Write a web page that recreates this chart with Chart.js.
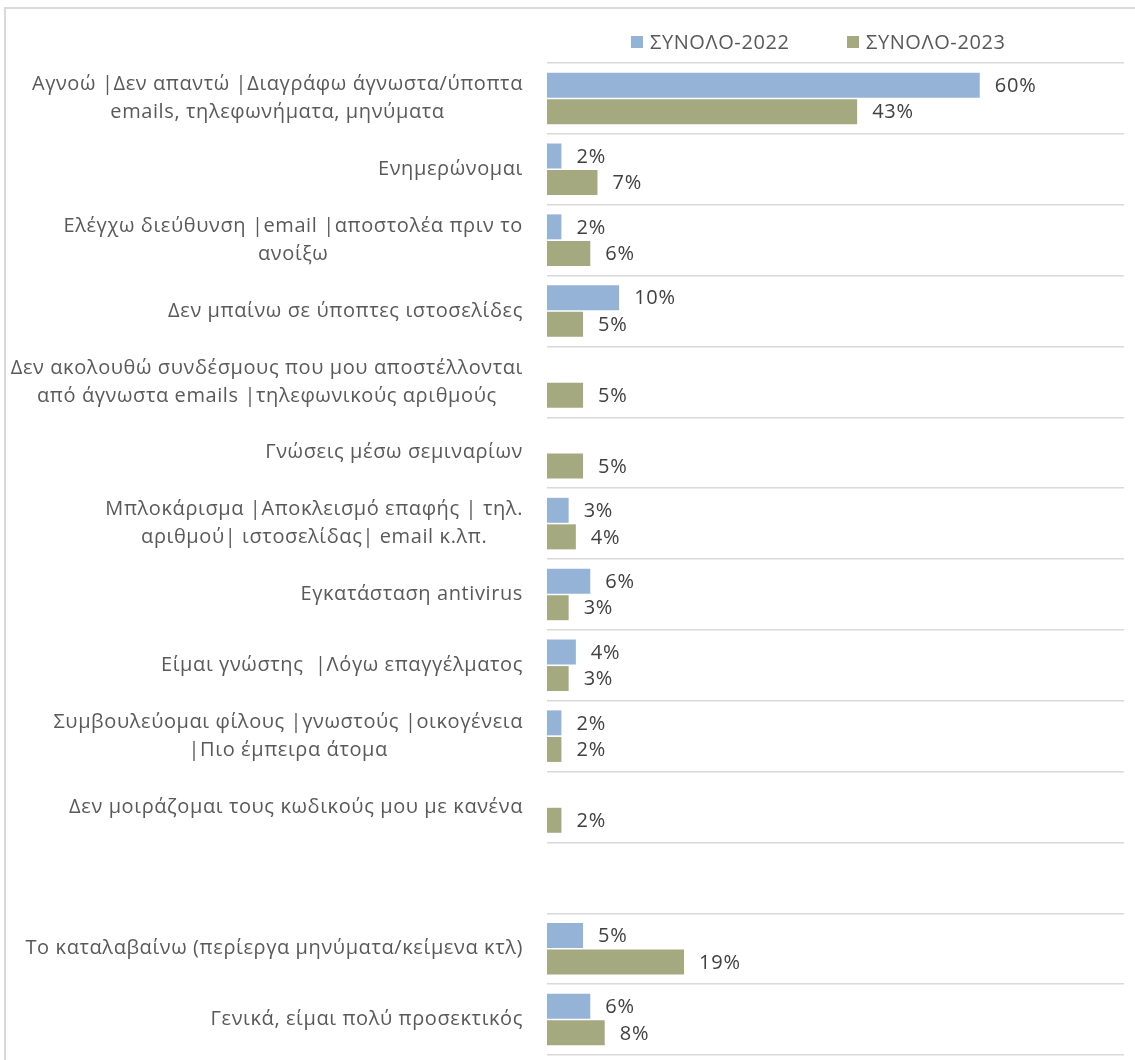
<!DOCTYPE html>
<html>
<head>
<meta charset="utf-8">
<script src="https://cdn.jsdelivr.net/npm/chart.js@4.4.1/dist/chart.umd.min.js"></script>
<style>
  body { margin: 0; background: #fff; }
  #wrap { position: relative; width: 1135px; height: 1060px; overflow: hidden; }
  #frame { position: absolute; left: 4px; top: 7px; width: 1200px; height: 1200px; border: 2px solid #d9d9d9; box-sizing: border-box; }
  #legend { position: absolute; top: 28px; left: 0; width: 1135px; font-family: "Open Sans", sans-serif; font-size: 20px; letter-spacing: 0.6px; color: #595959; }
  #legend span.item { position: absolute; white-space: nowrap; }
  #legend span.box { display: inline-block; width: 12px; height: 12px; margin-right: 7px; vertical-align: 1px; }
  canvas { position: absolute; left: 0; top: 0; }
</style>
</head>
<body>
<div id="wrap">
  <div id="frame"></div>
  <canvas id="myChart" width="1135" height="1060"></canvas>
  <div id="legend"></div>
</div>
<script>
// categories (multi-line ones as arrays)
var categories = [
    ['Αγνοώ |Δεν απαντώ |Διαγράφω άγνωστα/ύποπτα', 'emails, τηλεφωνήματα, μηνύματα'],
    'Ενημερώνομαι',
    ['Ελέγχω διεύθυνση |email |αποστολέα πριν το', 'ανοίξω'],
    'Δεν μπαίνω σε ύποπτες ιστοσελίδες',
    ['Δεν ακολουθώ συνδέσμους που μου αποστέλλονται', 'από άγνωστα emails |τηλεφωνικούς αριθμούς'],
    'Γνώσεις μέσω σεμιναρίων',
    ['Μπλοκάρισμα |Αποκλεισμό επαφής | τηλ.', 'αριθμού| ιστοσελίδας| email κ.λπ.'],
    'Εγκατάσταση antivirus',
    'Είμαι γνώστης  |Λόγω επαγγέλματος',
    ['Συμβουλεύομαι φίλους |γνωστούς |οικογένεια', '|Πιο έμπειρα άτομα'],
    'Δεν μοιράζομαι τους κωδικούς μου με κανένα',
    '',
    'Το καταλαβαίνω (περίεργα μηνύματα/κείμενα κτλ)',
    'Γενικά, είμαι πολύ προσεκτικός'
];
var seriesNames = ['ΣΥΝΟΛΟ-2022', 'ΣΥΝΟΛΟ-2023'];
var total2022 = [60, 2, 2, 10, null, null, 3, 6, 4, 2, null, null, 5, 6];
var total2023 = [43, 7, 6, 5, 5, 5, 4, 3, 3, 2, 2, null, 19, 8];

var FONT = '"Open Sans", sans-serif';

// labels on the left: block right aligned, lines centred inside the block
var catLabels = {
    id: 'catLabels',
    afterDraw: function(chart) {
        var ctx = chart.ctx;
        var y = chart.scales.y;
        var rightEdge = chart.chartArea.left - 24;
        var lineH = 28;
        ctx.save();
        ctx.font = '20px ' + FONT;
        ctx.letterSpacing = '0.6px';
        ctx.fillStyle = '#595959';
        ctx.textBaseline = 'middle';
        ctx.textAlign = 'center';
        for (var i = 0; i < categories.length; i++) {
            var lines = Array.isArray(categories[i]) ? categories[i] : [categories[i]];
            var w = 0;
            lines.forEach(function(l){ w = Math.max(w, ctx.measureText(l).width); });
            var cx = rightEdge - w / 2;
            var cy = y.getPixelForValue(i) - (lines.length - 1) * lineH / 2;
            lines.forEach(function(l, k){ ctx.fillText(l, cx, cy + k * lineH); });
        }
        ctx.restore();
    }
};

// value labels next to bar ends
var valueLabels = {
    id: 'valueLabels',
    afterDatasetsDraw: function(chart) {
        var ctx = chart.ctx;
        ctx.save();
        ctx.font = '20px ' + FONT;
        ctx.letterSpacing = '0.8px';
        ctx.fillStyle = '#404040';
        ctx.textBaseline = 'middle';
        ctx.textAlign = 'left';
        chart.data.datasets.forEach(function(ds, di) {
            var meta = chart.getDatasetMeta(di);
            meta.data.forEach(function(bar, i) {
                if (ds.data[i] == null) return;
                ctx.fillText(ds.data[i] + '%', bar.x + 15, bar.y + 1);
            });
        });
        ctx.restore();
    }
};

var chartdata = {
    labels: categories,
    datasets: [
        { label: seriesNames[0], data: total2022, backgroundColor: '#95b3d7',
          categoryPercentage: 0.75, barPercentage: 0.94 },
        { label: seriesNames[1], data: total2023, backgroundColor: '#a5a97f',
          categoryPercentage: 0.75, barPercentage: 0.94 }
    ]
};

var ctx = document.getElementById('myChart').getContext('2d');
var myChart = new Chart(ctx, {
    type: 'bar',
    data: chartdata,
    options: {
        indexAxis: 'y',
        responsive: false,
        animation: false,
        layout: { padding: { top: 63, right: 11, bottom: 5, left: 0 } },
        plugins: { legend: { display: false }, tooltip: { enabled: false } },
        scales: {
            x: { display: false, min: 0, max: 80 },
            y: {
                ticks: { display: false },
                border: { display: false },
                grid: { color: '#d9d9d9', lineWidth: 1.5, drawTicks: false, offset: true },
                afterFit: function(scale) { scale.width = 547; }
            }
        }
    },
    plugins: [catLabels, valueLabels]
});

// html legend built from the datasets
var legend = document.getElementById('legend');
var legendX = [631, 847];
chartdata.datasets.forEach(function(ds, i) {
    var item = document.createElement('span');
    item.className = 'item';
    item.style.left = legendX[i] + 'px';
    item.innerHTML = '<span class="box" style="background:' + ds.backgroundColor + '"></span>' + ds.label;
    legend.appendChild(item);
});
</script>
</body>
</html>
